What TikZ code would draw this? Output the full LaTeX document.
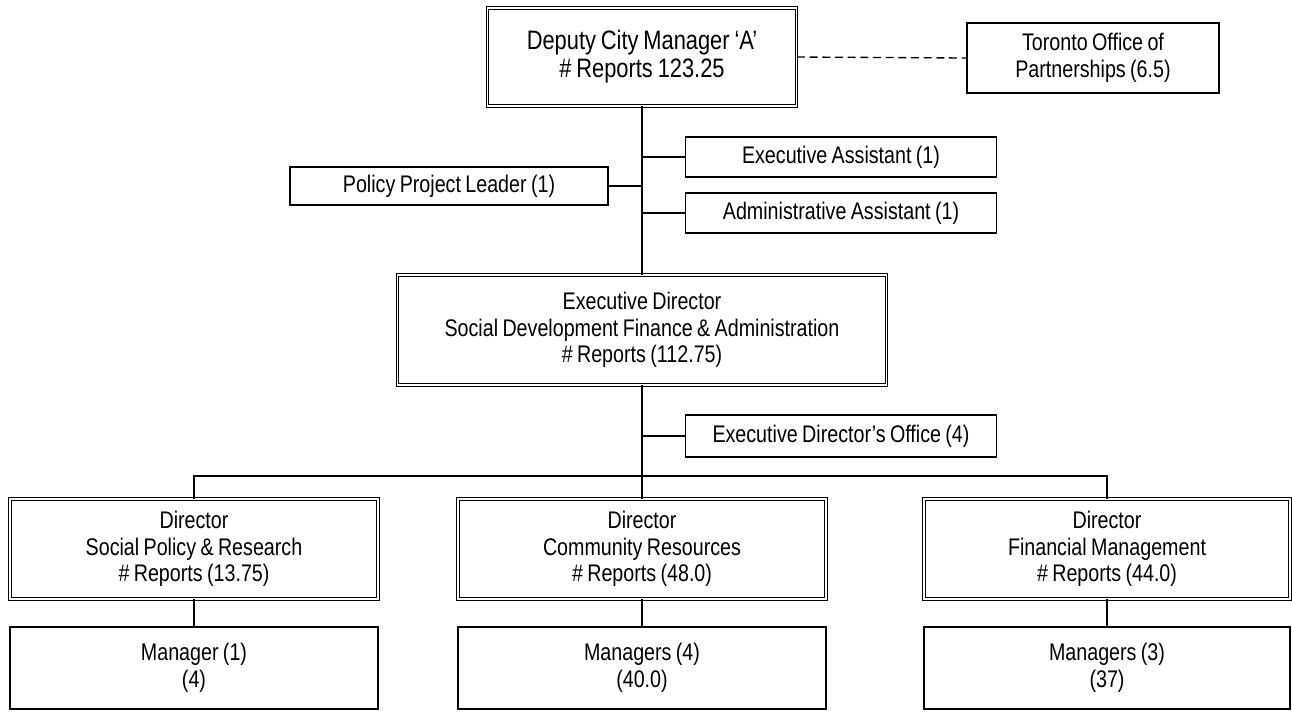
\documentclass[tikz,border=0pt]{standalone}
\usepackage{fontspec}
\setmainfont[FakeStretch=0.82,WordSpace=0.8]{Liberation Sans}
\usepackage{tikz}
\usetikzlibrary{positioning}

\tikzset{
	unit/.style={draw, line width=0.9pt, inner sep=0pt, align=center, font=\fontsize{18}{20}\selectfont},
	headunit/.style={unit, double, double distance=1.1pt, line width=0.65pt},
	sized/.style 2 args={minimum width=#1*0.75pt, minimum height=#2*0.75pt},
	link/.style={line width=1pt}
}

\begin{document}
\begin{tikzpicture}[x=0.75pt,y=-0.75pt]
	\useasboundingbox (0,0) rectangle (1292,711);
	\pgfmathsetmacro{\trunk}{642}
	
	% Top level
	\node[headunit, sized={309}{98}, font=\fontsize{20}{21}\selectfont] (dcm) at (\trunk,57) {Deputy City Manager `A'\\\# Reports 123.25};
	\node[unit, sized={252}{70}] (top) at (1093,58) {Toronto Office of\\Partnerships (6.5)};
	\draw[link, dash pattern=on 6pt off 3.5pt] (dcm.east) -- (top.west);
	
	% Staff units off the trunk
	\node[unit, sized={311}{40}] (ea) at (841,157) {Executive Assistant (1)};
	\node[unit, sized={311}{40}] (aa) at (841,213) {Administrative Assistant (1)};
	\node[unit, sized={318}{38}] (ppl) at (449,186) {Policy Project Leader (1)};
	
	% Executive Director
	\node[headunit, sized={489}{110}] (ed) at (\trunk,330) {Executive Director\\Social Development Finance \& Administration\\\# Reports (112.75)};
	\node[unit, sized={311}{42}] (edo) at (841,436) {Executive Director's Office (4)};
	
	\draw[link] (dcm.south) -- (ed.north);
	\draw[link] (ea.west) -- (ea.west -| dcm.south);
	\draw[link] (aa.west) -- (aa.west -| dcm.south);
	\draw[link] (ppl.east) -- (ppl.east -| dcm.south);
	\draw[link] (edo.west) -- (edo.west -| ed.south);
	
	% Directors and managers
	\node[headunit, sized={368}{100}] (d1) at (194,549) {Director\\Social Policy \& Research\\\# Reports (13.75)};
	\node[headunit, sized={368}{100}] (d2) at (\trunk,549) {Director\\Community Resources\\\# Reports (48.0)};
	\node[headunit, sized={366}{100}] (d3) at (1107,549) {Director\\Financial Management\\\# Reports (44.0)};
	\node[unit, sized={368}{82}] (m1) at (194,668) {Manager (1)\\(4)};
	\node[unit, sized={368}{82}] (m2) at (\trunk,668) {Managers (4)\\(40.0)};
	\node[unit, sized={366}{82}] (m3) at (1107,668) {Managers (3)\\(37)};
	
	\coordinate (bus) at (\trunk,476);
	\draw[link] (ed.south) -- (d2.north);
	\draw[link] (d1.north) |- (bus) -| (d3.north);
	\foreach \i in {1,2,3} {
		\draw[link] (d\i.south) -- (m\i.north);
	}
\end{tikzpicture}
\end{document}
